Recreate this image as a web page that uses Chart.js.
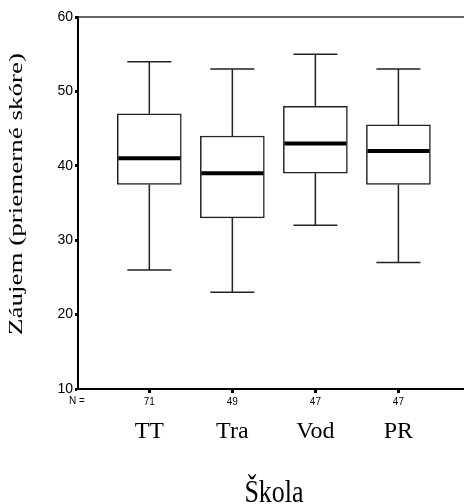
<!DOCTYPE html>
<html>
<head>
<meta charset="utf-8">
<script src="https://cdn.jsdelivr.net/npm/chart.js@4.4.0/dist/chart.umd.min.js"></script>
<style>
  html, body { margin: 0; padding: 0; background: #fff; }
  canvas { display: block; }
</style>
</head>
<body>
<canvas id="chart" width="464" height="504"></canvas>
<script>
const categories = ['TT', 'Tra', 'Vod', 'PR'];
const counts = [71, 49, 47, 47];
const whiskerLow = [26, 23, 32, 27];
const q1 = [37.5, 33, 39, 37.5];
const median = [41, 39, 43, 42];
const q3 = [47, 44, 48, 45.5];
const whiskerHigh = [54, 53, 55, 53];
const yTicks = [10, 20, 30, 40, 50, 60];

const boxPlugin = {
    id: 'boxExtras',
    afterDatasetsDraw(chart) {
        const ctx = chart.ctx;
        const xs = chart.scales.x, ys = chart.scales.y;
        const area = chart.chartArea;
        ctx.save();
        ctx.strokeStyle = '#222';
        ctx.lineWidth = 1.5;
        categories.forEach((c, i) => {
            const x = xs.getPixelForValue(i + 1);
            ctx.beginPath();
            ctx.moveTo(x, ys.getPixelForValue(q3[i]));
            ctx.lineTo(x, ys.getPixelForValue(whiskerHigh[i]));
            ctx.moveTo(x, ys.getPixelForValue(q1[i]));
            ctx.lineTo(x, ys.getPixelForValue(whiskerLow[i]));
            ctx.moveTo(x - 22, ys.getPixelForValue(whiskerHigh[i]));
            ctx.lineTo(x + 22, ys.getPixelForValue(whiskerHigh[i]));
            ctx.moveTo(x - 22, ys.getPixelForValue(whiskerLow[i]));
            ctx.lineTo(x + 22, ys.getPixelForValue(whiskerLow[i]));
            ctx.stroke();
        });
        ctx.strokeStyle = '#000';
        ctx.lineWidth = 4;
        categories.forEach((c, i) => {
            const x = xs.getPixelForValue(i + 1);
            const y = ys.getPixelForValue(median[i]);
            ctx.beginPath();
            ctx.moveTo(x - 31, y);
            ctx.lineTo(x + 31, y);
            ctx.stroke();
        });
        // top frame line
        ctx.strokeStyle = '#333';
        ctx.lineWidth = 1.7;
        ctx.beginPath();
        ctx.moveTo(area.left, area.top);
        ctx.lineTo(area.right, area.top);
        ctx.stroke();
        ctx.restore();
    },
    afterDraw(chart) {
        const ctx = chart.ctx;
        const xs = chart.scales.x;
        const area = chart.chartArea;
        ctx.save();
        ctx.fillStyle = '#000';
        ctx.textAlign = 'center';
        ctx.textBaseline = 'alphabetic';
        ctx.font = '24px "Liberation Serif", "Times New Roman", serif';
        categories.forEach((c, i) => {
            ctx.fillText(c, xs.getPixelForValue(i + 1), 438);
        });
        ctx.font = '10px "Liberation Sans", Arial, sans-serif';
        ctx.textBaseline = 'middle';
        ctx.fillText('N =', area.left - 1, 401);

        // x title
        ctx.save();
        ctx.textBaseline = 'alphabetic';
        ctx.translate(274, 502);
        ctx.scale(1, 1.25);
        ctx.font = '26px "Liberation Serif", "Times New Roman", serif';
        ctx.fillText('Škola', 0, 0);
        ctx.restore();

        // y title
        const title = 'Záujem (priemerné skóre)';
        ctx.save();
        ctx.textBaseline = 'alphabetic';
        ctx.font = '19px "Liberation Serif", "Times New Roman", serif';
        const w = ctx.measureText(title).width;
        ctx.translate(22, 194);
        ctx.rotate(-Math.PI / 2);
        ctx.scale(282 / w, 1);
        ctx.fillText(title, 0, 0);
        ctx.restore();
        ctx.restore();
    }
};

new Chart(document.getElementById('chart'), {
    type: 'bar',
    data: {
        datasets: [{
            data: categories.map((c, i) => ({ x: i + 1, y: [q1[i], q3[i]] })),
            backgroundColor: '#fff',
            borderColor: '#222',
            borderWidth: 1.5,
            borderSkipped: false,
            barThickness: 64
        }]
    },
    options: {
        responsive: false,
        animation: false,
        devicePixelRatio: 1,
        layout: { padding: { top: 17, right: 0, left: 0, bottom: 0 } },
        plugins: { legend: { display: false }, tooltip: { enabled: false } },
        scales: {
            x: {
                type: 'linear',
                offset: false,
                min: 0.141,
                max: 4.79,
                afterBuildTicks: (s) => { s.ticks = counts.map((n, i) => ({ value: i + 1 })); },
                afterFit: (s) => { s.height = 115; },
                ticks: {
                    autoSkip: false,
                    maxRotation: 0,
                    padding: 3,
                    color: '#000',
                    font: { family: '"Liberation Sans", Arial, sans-serif', size: 10 },
                    callback: (v, idx) => String(counts[idx])
                },
                grid: { offset: false, drawOnChartArea: false, drawTicks: true, tickLength: 4, tickWidth: 3, tickColor: '#000' },
                border: { display: true, color: '#000', width: 2 }
            },
            y: {
                min: 10,
                max: 60,
                afterBuildTicks: (s) => { s.ticks = yTicks.map(v => ({ value: v })); },
                afterFit: (s) => { s.width = 78; },
                ticks: {
                    padding: 2,
                    color: '#000',
                    font: { family: '"Liberation Sans", Arial, sans-serif', size: 14 }
                },
                grid: { drawOnChartArea: false, drawTicks: true, tickLength: 3, tickWidth: 3, tickColor: '#000' },
                border: { display: true, color: '#000', width: 2 }
            }
        }
    },
    plugins: [boxPlugin]
});
</script>
</body>
</html>
